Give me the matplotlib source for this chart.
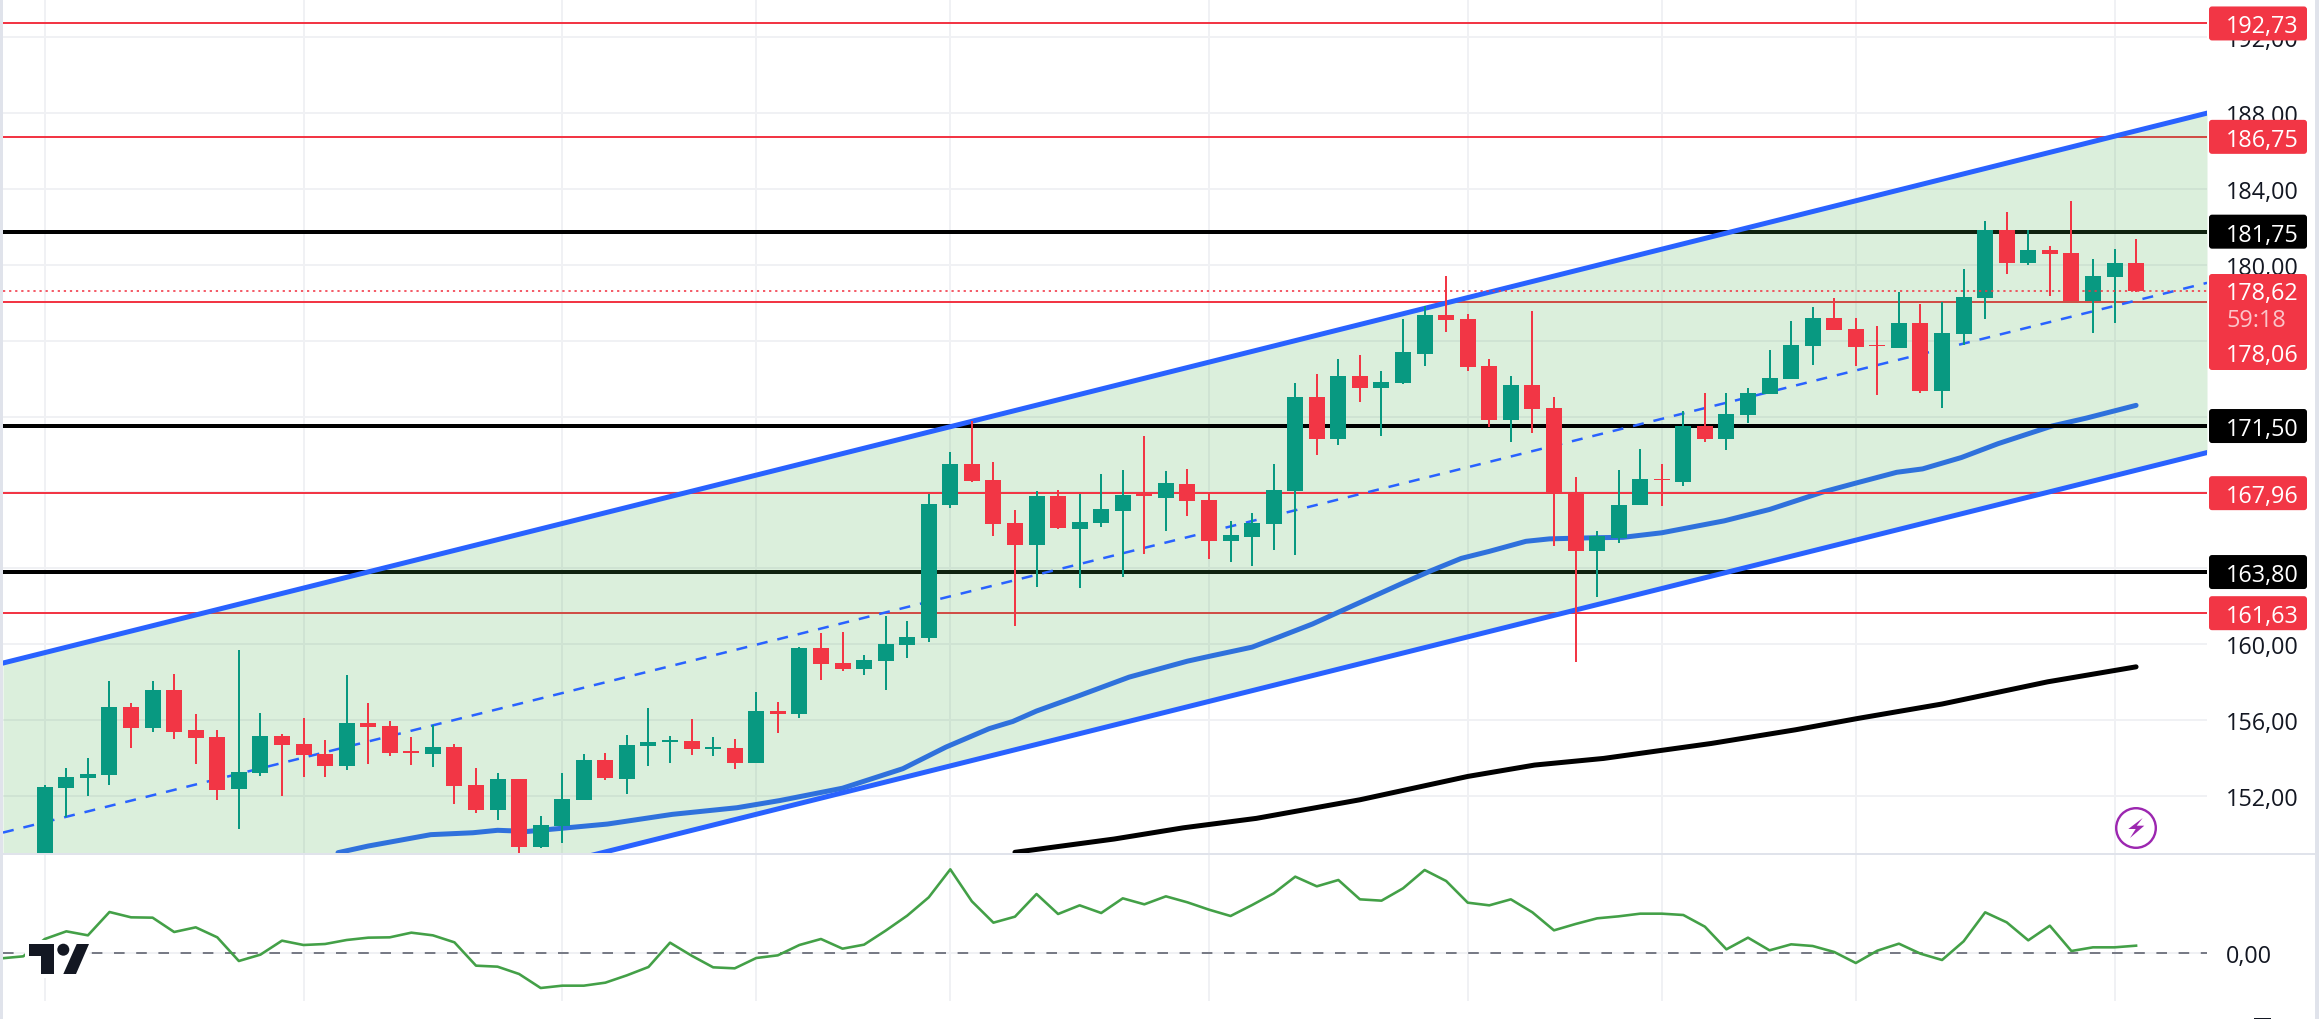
import matplotlib
matplotlib.use('Agg')
import matplotlib.pyplot as plt
from matplotlib.patches import Circle, FancyBboxPatch, Polygon, Rectangle

plt.rcParams['font.family'] = ['Open Sans', 'DejaVu Sans']

# Candles, one per bar
opens = [148.6, 152.42, 152.95, 153.11, 156.68, 155.58, 157.58, 155.47, 155.11, 152.37,
         153.21, 155.16, 154.74, 154.21, 153.58, 155.84, 155.68, 154.37, 154.21, 154.58,
         152.58, 151.26, 152.89, 149.32, 150.42, 151.79, 153.89, 152.89, 154.63, 154.84,
         154.89, 154.47, 154.53, 153.74, 156.47, 156.32, 159.80, 159.01, 158.69, 159.12,
         159.96, 160.33, 167.32, 169.48, 168.64, 166.38, 165.22, 167.80, 166.06, 166.38,
         167.01, 167.96, 167.70, 168.43, 167.59, 165.43, 165.64, 166.32, 168.06, 173.01,
         170.80, 174.12, 173.48, 173.75, 175.32, 177.38, 177.17, 174.64, 171.80, 173.64,
         172.45, 167.99, 164.89, 165.57, 167.31, 168.73, 168.57, 171.52, 170.84, 172.10,
         173.20, 173.99, 175.73, 177.20, 176.63, 175.78, 175.63, 176.94, 173.36, 176.36,
         178.26, 181.84, 180.10, 180.78, 180.63, 178.10, 179.36, 180.10]
highs = [152.58, 153.47, 154.0, 158.05, 156.89, 158.05, 158.42, 156.32, 155.47, 159.68,
         156.37, 155.26, 156.11, 154.95, 158.37, 156.89, 155.95, 155.11, 155.74, 154.74,
         153.47, 153.21, 152.89, 150.95, 153.21, 154.21, 154.26, 155.21, 156.63, 155.16,
         156.05, 155.11, 155.0, 157.47, 156.95, 159.85, 160.59, 160.64, 159.43, 161.48,
         161.22, 167.90, 170.11, 171.75, 169.59, 167.06, 168.06, 168.12, 167.90, 168.96,
         169.17, 170.96, 169.12, 169.22, 167.96, 166.49, 166.91, 169.48, 173.75, 174.27,
         175.01, 175.22, 174.38, 177.17, 177.85, 179.4, 177.43, 175.01, 174.12, 177.59,
         173.05, 168.82, 165.94, 169.20, 170.31, 169.52, 172.31, 173.26, 173.26, 173.52,
         175.52, 177.05, 177.78, 178.26, 177.20, 176.78, 178.57, 177.94, 178.05, 179.78,
         182.31, 182.78, 181.84, 180.99, 183.36, 180.31, 180.84, 181.36]
lows = [148.4, 150.88, 152.0, 152.58, 154.53, 155.37, 155.0, 153.68, 151.79, 150.26,
        153.05, 152.0, 153.0, 153.0, 153.37, 153.68, 154.11, 153.63, 153.53, 151.58,
        151.11, 150.74, 149.0, 149.26, 149.53, 151.79, 152.84, 152.11, 153.58, 153.74,
        154.16, 154.11, 153.42, 153.74, 155.32, 156.11, 158.11, 158.59, 158.38, 157.59,
        159.27, 160.12, 167.17, 168.54, 165.69, 160.96, 163.01, 166.06, 162.96, 166.17,
        163.54, 164.75, 165.96, 166.75, 164.49, 164.33, 164.12, 164.96, 164.70, 169.96,
        170.48, 172.75, 170.96, 173.69, 174.64, 176.48, 174.38, 171.43, 170.64, 171.12,
        165.15, 159.07, 162.47, 165.31, 167.31, 167.26, 168.36, 170.68, 170.26, 171.68,
        173.20, 173.99, 174.73, 176.57, 174.68, 173.15, 175.63, 173.26, 172.47, 175.78,
        177.15, 179.52, 179.99, 178.36, 178.08, 176.41, 176.94, 178.57]
closes = [152.47, 153.0, 153.16, 156.68, 155.58, 157.58, 155.37, 155.05, 152.32, 153.26,
          155.16, 154.68, 154.16, 153.58, 155.84, 155.63, 154.26, 154.28, 154.58, 152.53,
          151.26, 152.89, 149.32, 150.47, 151.84, 153.89, 152.95, 154.68, 154.84, 154.95,
          154.47, 154.58, 153.74, 156.47, 156.32, 159.80, 158.96, 158.69, 159.17, 160.01,
          160.38, 167.38, 169.48, 168.59, 166.32, 165.22, 167.80, 166.12, 166.43, 167.12,
          167.85, 167.80, 168.49, 167.54, 165.43, 165.75, 166.38, 168.12, 173.01, 170.80,
          174.12, 173.48, 173.80, 175.38, 177.38, 177.11, 174.59, 171.80, 173.64, 172.38,
          167.89, 164.89, 165.68, 167.36, 168.68, 168.63, 171.52, 170.84, 172.15, 173.26,
          174.05, 175.78, 177.20, 176.57, 175.68, 175.70, 176.94, 173.36, 176.41, 178.31,
          181.84, 180.10, 180.78, 180.57, 178.08, 179.41, 180.10, 178.62]

# Moving averages
ma_blue_idx = [13.6, 15, 17.9, 19.85, 21, 22.4, 26.1, 29.1, 32.1, 34.1, 37, 39.8, 41.8, 43.8,
               44.9, 46, 48, 50.3, 53, 54.2, 56, 57.3, 58.8, 60, 62.9, 64.3, 65.7, 67, 68.7,
               69.8, 71.9, 73.2, 75, 77.9, 80, 82.5, 84.1, 85.9, 87.1, 88.9, 90.6, 93.1, 94.7, 97]
ma_blue = [149.0, 149.35, 149.95, 150.05, 150.18, 150.12, 150.51, 151.02, 151.37, 151.75, 152.4,
           153.43, 154.57, 155.54, 155.92, 156.47, 157.29, 158.26, 159.10, 159.40, 159.84, 160.4,
           161.06, 161.68, 163.17, 163.87, 164.52, 164.89, 165.42, 165.55, 165.61, 165.63, 165.87,
           166.5, 167.1, 168.03, 168.52, 169.06, 169.24, 169.84, 170.57, 171.5, 171.92, 172.59]
ma_black_idx = [45, 49.6, 52.8, 56.2, 61, 66, 69.1, 72.3, 77.3, 81.2, 84.1, 88, 92.9, 97]
ma_black = [149.02, 149.72, 150.31, 150.81, 151.79, 153.02, 153.62, 153.97, 154.76, 155.48,
            156.08, 156.84, 158.01, 158.80]

# Channel
channel_idx = [-1.94, 100.29]
channel_upper = [159.0, 188.0]
channel_mid = [150.06, 179.05]
channel_lower = [141.12, 170.1]

# Horizontal levels
black_levels = [181.75, 171.50, 163.80]
red_levels = [192.73, 186.75, 178.06, 167.96, 161.63]
last_price = 178.62
price_ticks = [152, 156, 160, 164, 168, 172, 176, 180, 184, 188, 192]
time_ticks = [0, 12, 24, 33, 42, 54, 66, 75, 84, 96]

# Lower indicator, one value per bar (starts two bars before the first candle)
osc_idx = list(range(-2, 98))
osc = [-0.16, -0.10, 0.42, 0.65, 0.53, 1.23, 1.07, 1.06, 0.63, 0.77,
       0.47, -0.24, -0.05, 0.37, 0.24, 0.27, 0.39, 0.46, 0.47, 0.61,
       0.53, 0.32, -0.38, -0.41, -0.63, -1.05, -0.98, -0.98, -0.89, -0.67,
       -0.42, 0.31, -0.08, -0.43, -0.46, -0.15, -0.07, 0.24, 0.42, 0.13,
       0.25, 0.67, 1.12, 1.67, 2.51, 1.55, 0.91, 1.09, 1.77, 1.17,
       1.43, 1.20, 1.64, 1.46, 1.70, 1.52, 1.30, 1.11, 1.44, 1.79,
       2.29, 2.00, 2.19, 1.61, 1.57, 1.94, 2.49, 2.16, 1.51, 1.43,
       1.61, 1.22, 0.68, 0.87, 1.04, 1.10, 1.18, 1.18, 1.14, 0.79,
       0.11, 0.46, 0.08, 0.26, 0.21, 0.03, -0.30, 0.07, 0.28, -0.02,
       -0.21, 0.35, 1.22, 0.92, 0.38, 0.82, 0.06, 0.17, 0.17, 0.22]

GREEN = '#089981'
RED = '#f23645'
BLUE = '#2962ff'
GRID = '#f0f1f4'
BORDER = '#e0e3eb'
TEXT = '#131722'
FS = 16.8
PX = 0.72  # one pixel in points at dpi 100

fig = plt.figure(figsize=(23.19, 10.2), dpi=100, facecolor='white')

# main pane, 3..2207 px across and 0..855 px down
ax = fig.add_axes([3 / 2319, 1 - 855 / 1020, 2204 / 2319, 855 / 1020])
ax.set_xlim(-1.939, 100.29)
ax.set_ylim(148.93, 194.02)

ax.vlines(time_ticks, 148, 195, color=GRID, lw=2 * PX, zorder=1)
ax.hlines(price_ticks, -2, 101, color=GRID, lw=2 * PX, zorder=1)

# these sit under the green fill and get tinted by it
for level in black_levels:
    if level != 171.50:
        ax.axhline(level, color='black', lw=4 * PX, zorder=2)
for level in red_levels:
    if level != 167.96:
        ax.axhline(level, color=RED, lw=2 * PX, zorder=2)
ax.plot(ma_blue_idx, ma_blue, color=BLUE, lw=5 * PX, zorder=2, solid_capstyle='round')
ax.plot(ma_black_idx, ma_black, color='black', lw=5 * PX, zorder=2, solid_capstyle='round')

ax.fill_between(channel_idx, channel_lower, channel_upper, color='#4caf50', alpha=0.2, lw=0, zorder=3)

ax.axhline(171.50, color='black', lw=4 * PX, zorder=4)
ax.axhline(167.96, color=RED, lw=2 * PX, zorder=4)
ax.plot(channel_idx, channel_upper, color=BLUE, lw=5 * PX, zorder=4)
ax.plot(channel_idx, channel_lower, color=BLUE, lw=5 * PX, zorder=4)
ax.plot(channel_idx, channel_mid, color=BLUE, lw=2.5 * PX, ls=(0, (4.4, 4.0)), zorder=4)

# candles
for i in range(len(opens)):
    col = GREEN if closes[i] >= opens[i] else RED
    ax.vlines(i, lows[i], highs[i], color=col, lw=2 * PX, zorder=5)
    ax.bar(i, abs(closes[i] - opens[i]), bottom=min(opens[i], closes[i]), width=0.742,
           color=col, lw=0, zorder=5)

ax.axhline(last_price, color=RED, lw=1.6 * PX, ls=(0, (1.4, 2.4)), zorder=6)

ax.yaxis.tick_right()
ax.set_yticks(price_ticks)
ax.set_yticklabels(['%d,00' % p for p in price_ticks], fontsize=FS, color=TEXT)
ax.tick_params(axis='y', length=0, pad=19 * PX)
ax.set_xticks([])
for s in ax.spines.values():
    s.set_visible(False)

# indicator pane
ax2 = fig.add_axes([3 / 2319, 1 - 1002 / 1020, 2204 / 2319, 146 / 1020])
ax2.set_xlim(-1.939, 100.29)
ax2.set_ylim(-1.44, 2.94)
ax2.vlines(time_ticks, -1.44, 2.94, color=GRID, lw=2 * PX, zorder=1)
ax2.axhline(0, color=GRID, lw=2 * PX, zorder=1)
ax2.axhline(0, color='#787b86', lw=2 * PX, ls=(0, (5.3, 5.8)), zorder=2)
ax2.plot(osc_idx, osc, color='#43a047', lw=2.6 * PX, zorder=3)
ax2.yaxis.tick_right()
ax2.set_yticks([0])
ax2.set_yticklabels(['0,00'], fontsize=FS, color=TEXT)
ax2.tick_params(axis='y', length=0, pad=19 * PX)
ax2.set_xticks([])
for s in ax2.spines.values():
    s.set_visible(False)

# overlay in pixels for the borders, price labels and logos
top = fig.add_axes([0, 0, 1, 1], zorder=10)
top.set_xlim(0, 2319)
top.set_ylim(1020, 0)
top.axis('off')
top.patch.set_visible(False)


def price_y(p):
    return 1020 - ax.transData.transform((0, p))[1]


def price_box(y0, y1, color):
    top.add_patch(FancyBboxPatch((2212, y0 + 3), 92, y1 - y0 - 6,
                                 boxstyle='round,pad=3,rounding_size=3', fc=color, ec='none'))


top.add_patch(Rectangle((0, 0), 3, 1020, fc=BORDER, ec='none'))
top.add_patch(Rectangle((2315, 0), 4, 1020, fc=BORDER, ec='none'))
top.add_patch(Rectangle((3, 853.5), 2312, 2.3, fc=BORDER, ec='none'))
top.add_patch(Rectangle((2254, 1018.8), 17, 1.2, fc=TEXT, ec='none'))

for level in red_levels + black_levels:
    if level in (178.06,):
        continue
    y = price_y(level)
    price_box(y - 17, y + 17, RED if level in red_levels else 'black')
    top.text(2226, y, ('%.2f' % level).replace('.', ','), color='white', fontsize=FS,
             va='center_baseline', ha='left')

# current price box with countdown and the level that is pushed below it
price_box(275, 371, RED)
top.text(2226, 291, ('%.2f' % last_price).replace('.', ','), color='white', fontsize=FS,
         va='center_baseline', ha='left')
top.text(2226, 318, '59:18', color='#fbc4c9', fontsize=FS, va='center_baseline', ha='left')
top.text(2226, 353, '178,06', color='white', fontsize=FS, va='center_baseline', ha='left')

# TradingView mark
logo_t = [(29, 945), (54.3, 945), (54.3, 975), (41.3, 975), (41.3, 957.3), (29, 957.3)]
logo_slant = [(76.7, 945), (89, 945), (76, 975), (63.3, 975)]
for pts in (logo_t, logo_slant):
    top.add_patch(Polygon(pts, closed=True, fc='white', ec='white', lw=8 * PX))
top.add_patch(Circle((63.3, 950.7), 6, fc='white', ec='white', lw=8 * PX))
for pts in (logo_t, logo_slant):
    top.add_patch(Polygon(pts, closed=True, fc=TEXT, ec='none'))
top.add_patch(Circle((63.3, 950.7), 6, fc=TEXT, ec='none'))

# lightning badge
top.add_patch(Circle((2136, 829), 19.8, fc='white', ec='#9c27b0', lw=2.4 * PX))
bolt = [(2142.7, 819), (2128.3, 830), (2135.7, 830), (2130, 839), (2144.3, 826.7), (2136.7, 826.7)]
top.add_patch(Polygon(bolt, closed=True, fc='#9c27b0', ec='none'))

fig.savefig('out.png', dpi=100)
